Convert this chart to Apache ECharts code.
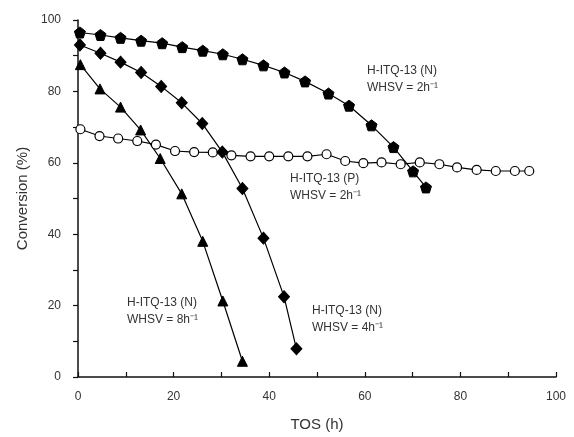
<!DOCTYPE html>
<html><head><meta charset="utf-8">
<script src="https://cdn.jsdelivr.net/npm/echarts@6/dist/echarts.min.js"></script>
<style>html,body{margin:0;padding:0;background:#fff}#c{width:574px;height:437px}</style>
</head><body><div id="c"></div>
<script>
// H-ITQ-13 (N), WHSV = 2 h-1 (filled pentagons)
const n2Time = [0.4, 4.7, 8.9, 13.2, 17.6, 21.8, 26.1, 30.3, 34.4, 38.8, 43.2, 47.5, 52.4, 56.7, 61.4, 66.0, 70.1, 72.8];
const n2Conv = [96.5, 95.8, 95.0, 94.2, 93.5, 92.4, 91.4, 90.4, 89.0, 87.3, 85.3, 82.8, 79.4, 76.0, 70.5, 64.4, 57.6, 53.1];
// H-ITQ-13 (N), WHSV = 4 h-1 (diamonds)
const n4Time = [0.4, 4.7, 8.9, 13.2, 17.4, 21.7, 26.0, 30.2, 34.4, 38.8, 43.1, 45.7];
const n4Conv = [93.0, 90.7, 88.2, 85.3, 81.4, 76.8, 71.0, 63.0, 52.8, 38.9, 22.5, 7.9];
// H-ITQ-13 (N), WHSV = 8 h-1 (triangles)
const n8Time = [0.5, 4.6, 8.9, 13.1, 17.2, 21.7, 26.1, 30.3, 34.4];
const n8Conv = [87.5, 80.7, 75.6, 69.2, 61.2, 51.3, 38.0, 21.3, 4.4];
// H-ITQ-13 (P), WHSV = 2 h-1 (open circles)
const p2Time = [0.5, 4.5, 8.4, 12.4, 16.3, 20.3, 24.3, 28.2, 32.1, 36.1, 40.0, 44.0, 48.0, 52.0, 55.9, 59.7, 63.5, 67.5, 71.5, 75.6, 79.3, 83.4, 87.4, 91.4, 94.4];
const p2Conv = [69.4, 67.5, 66.8, 66.1, 65.1, 63.3, 63.0, 62.9, 62.1, 61.8, 61.8, 61.8, 61.8, 62.4, 60.5, 59.9, 60.1, 59.6, 60.1, 59.6, 58.7, 58.0, 57.7, 57.7, 57.7];
const xTicks = [0, 20, 40, 60, 80, 100];
const yTicks = [0, 20, 40, 60, 80, 100];
const annot = [
  {text: 'H-ITQ-13 (N)\nWHSV = 2h\u207B\u00B9', x: 367, y: 62},
  {text: 'H-ITQ-13 (P)\nWHSV = 2h\u207B\u00B9', x: 290, y: 170},
  {text: 'H-ITQ-13 (N)\nWHSV = 8h\u207B\u00B9', x: 127, y: 294},
  {text: 'H-ITQ-13 (N)\nWHSV = 4h\u207B\u00B9', x: 312, y: 302}
];

const zip = (a, b) => a.map((v, i) => [v, b[i]]);
const pent = 'path://M0,-10 L9.5,-3.1 L5.9,8.1 L-5.9,8.1 L-9.5,-3.1 Z';
const tri = 'path://M0,-10 L10,8 L-10,8 Z';
const dia = 'path://M0,-10 L8,0 L0,10 L-8,0 Z';
const font = 'Liberation Sans, Arial, sans-serif';
const txt = '#333';
const mk = (name, data, symbol, size, item) => ({
  type: 'line', name: name, data: data, symbol: symbol, symbolSize: size,
  lineStyle: {color: '#000', width: 1.2},
  itemStyle: item || {color: '#000', borderColor: '#000'}
});

const chart = echarts.init(document.getElementById('c'));
chart.setOption({
  animation: false,
  grid: {left: 78, right: 18, top: 20, bottom: 58},
  xAxis: {
    type: 'value', min: 0, max: 100, interval: 10,
    name: 'TOS (h)', nameLocation: 'middle', nameGap: 40,
    nameTextStyle: {fontFamily: font, fontSize: 15, color: txt},
    axisLine: {show: true, lineStyle: {color: '#111', width: 1.5}},
    axisTick: {show: true, inside: true, length: 5, lineStyle: {color: '#111', width: 1.2}},
    axisLabel: {fontFamily: font, fontSize: 12, color: txt, margin: 14,
      formatter: v => xTicks.includes(v) ? String(v) : ''},
    splitLine: {show: false}
  },
  yAxis: {
    type: 'value', min: 0, max: 100, interval: 10,
    name: 'Conversion (%)', nameLocation: 'middle', nameGap: 48,
    nameTextStyle: {fontFamily: font, fontSize: 15, color: txt},
    axisLine: {show: true, lineStyle: {color: '#111', width: 1.5}},
    axisTick: {show: true, length: 5, lineStyle: {color: '#111', width: 1.2}},
    axisLabel: {fontFamily: font, fontSize: 12, color: txt, margin: 17,
      formatter: v => yTicks.includes(v) ? String(v) : ''},
    splitLine: {show: false}
  },
  series: [
    mk('N2', zip(n2Time, n2Conv), pent, 11),
    mk('P2', zip(p2Time, p2Conv), 'circle', 9, {color: '#fff', borderColor: '#000', borderWidth: 1.2}),
    mk('N4', zip(n4Time, n4Conv), dia, [11, 12]),
    mk('N8', zip(n8Time, n8Conv), tri, 10)
  ],
  graphic: annot.map(a => ({
    type: 'text', left: a.x, top: a.y,
    style: {text: a.text, fontFamily: font, fontSize: 12, lineHeight: 17, fill: txt}
  }))
});
</script></body></html>
